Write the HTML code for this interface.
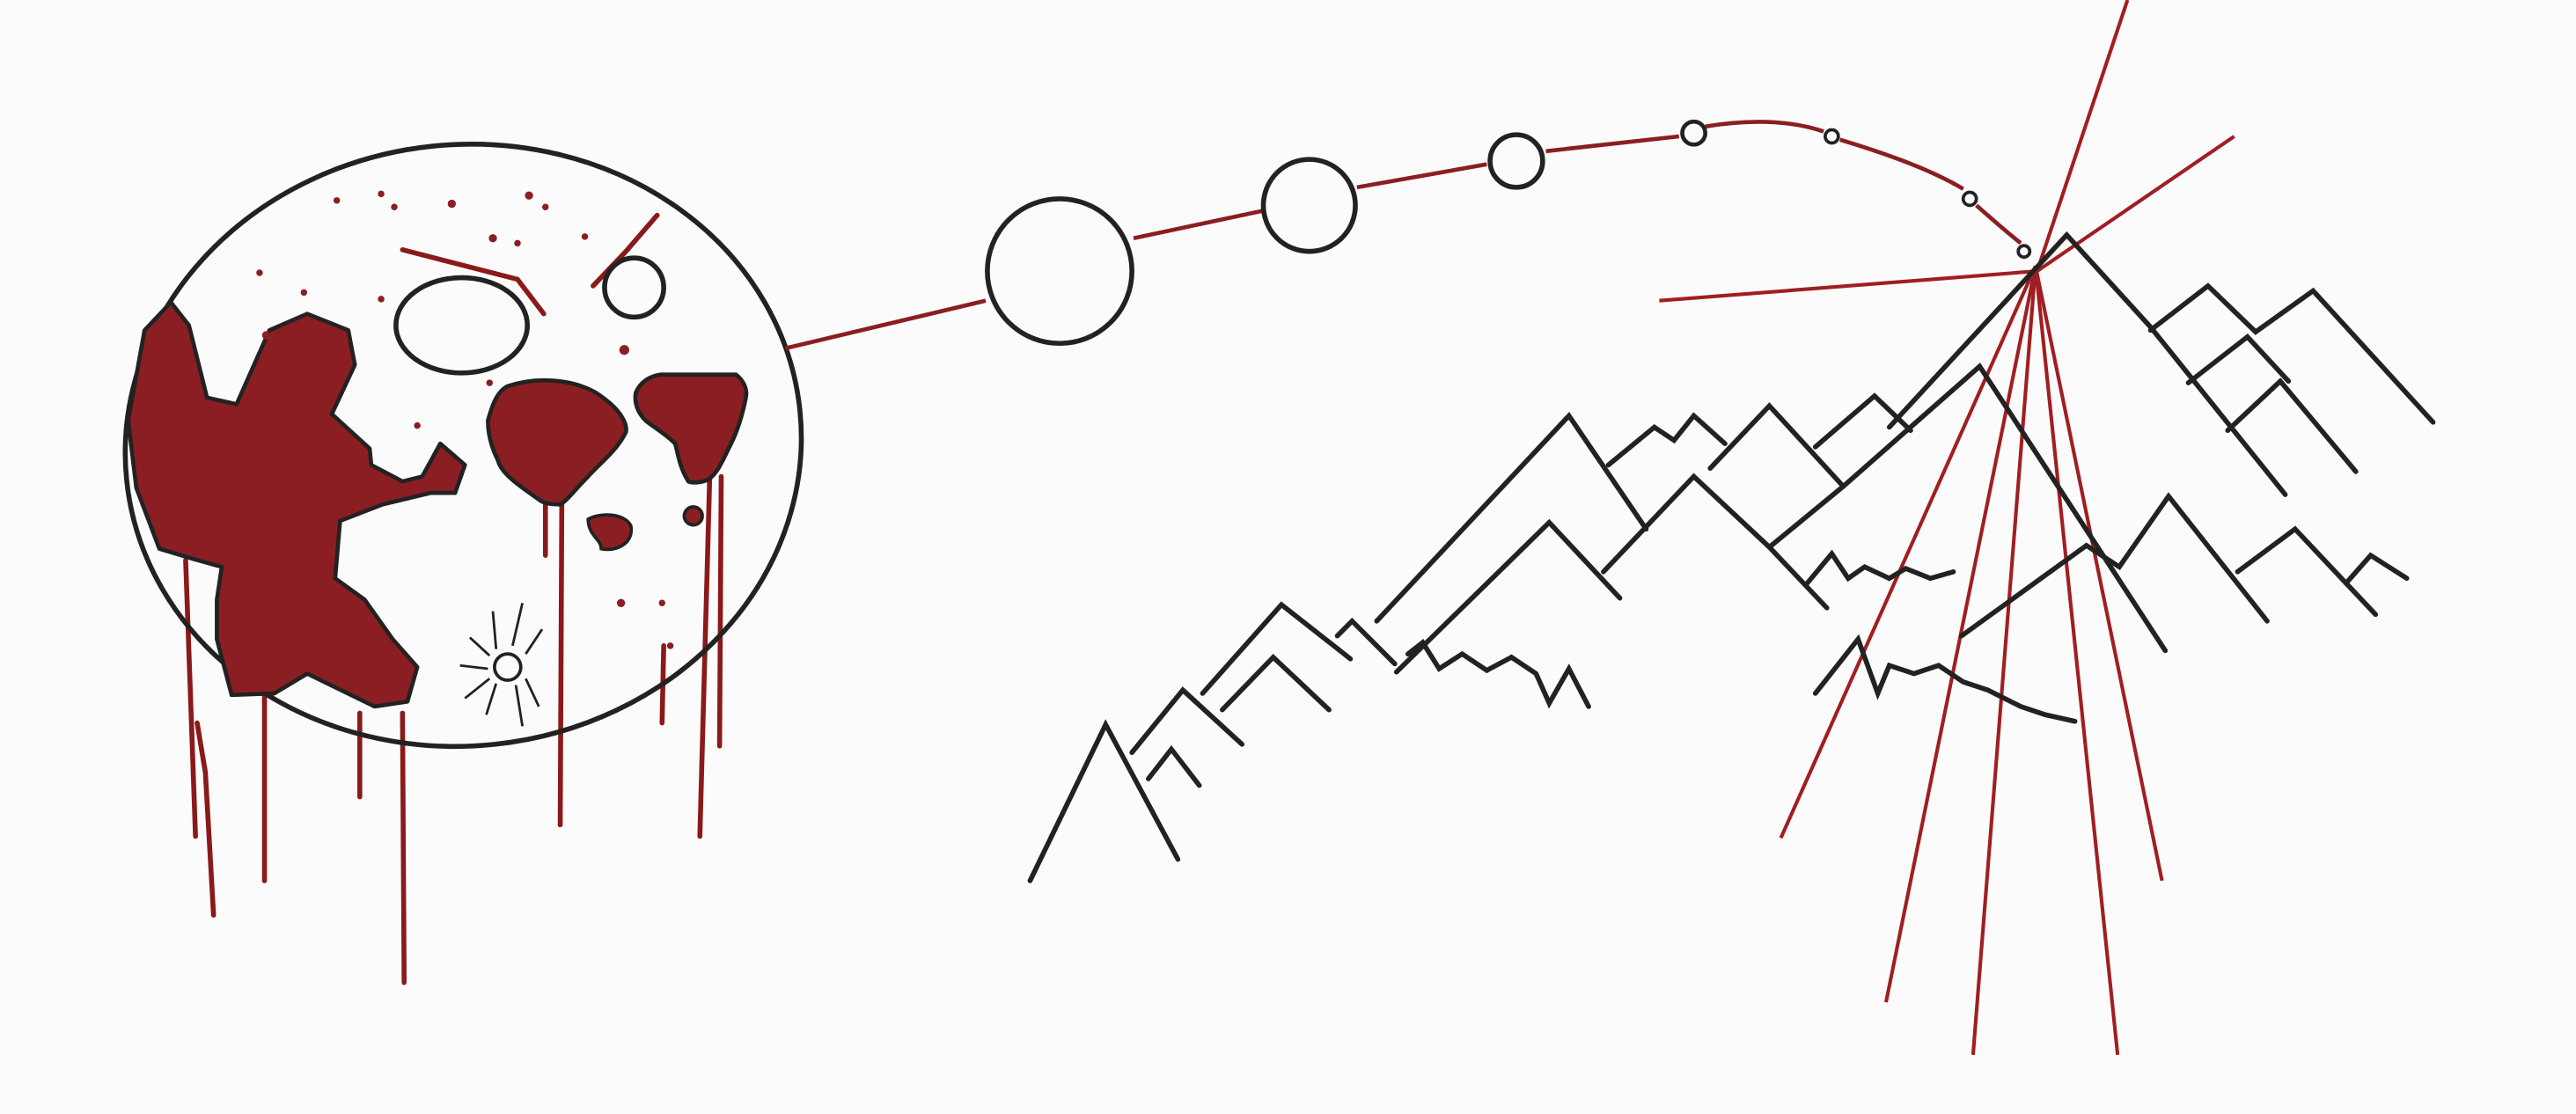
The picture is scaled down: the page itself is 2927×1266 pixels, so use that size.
<!DOCTYPE html>
<html><head><meta charset="utf-8"><style>
html,body{margin:0;padding:0;background:#fbfbfb;}
svg{display:block;}
</style></head><body>
<svg width="2927" height="1266" viewBox="0 0 1568 678" preserveAspectRatio="none" xmlns="http://www.w3.org/2000/svg">
<rect width="1568" height="678" fill="#fbfbfb"/>
<g>
  <g stroke="#8a1a1a" stroke-width="3" fill="none" stroke-linecap="round">
    <path d="M113 341 L119 509"/>
    <path d="M120 440 L125 470 L130 557"/>
    <path d="M161 423 L161 536"/>
    <path d="M219 434 L219 485"/>
    <path d="M245 434 L246 598"/>
    <path d="M332 300 L332 338"/>
    <path d="M342 300 L341 502"/>
    <path d="M404 393 L403 440"/>
    <path d="M432 290 L426 509"/>
    <path d="M439 290 L438 454"/>
    <path d="M245 152 L315 170 L331 191"/>
    <path d="M361 174 L381 153 L400 131"/>
  </g>
  <ellipse cx="282" cy="271" rx="206" ry="183" transform="rotate(-6 282 271)" fill="none" stroke="#222" stroke-width="3"/>
  <path d="M104 184 L115 198 L126 242 L144 246 L164 201 L187 191 L212 201 L216 222 L202 252 L225 273 L226 283 L245 293 L257 290 L268 270 L283 283 L277 300 L262 300 L233 307 L207 317 L204 352 L222 365 L239 389 L254 406 L248 427 L228 430 L187 410 L167 422 L141 423 L132 389 L132 365 L135 345 L117 340 L97 334 L83 297 L78 256 L88 201 Z" fill="#8b1e22" stroke="#222" stroke-width="2.5" stroke-linejoin="round"/>
  <path d="M309 235 C330 228 355 232 367 242 C378 250 382 258 381 263 C375 275 365 282 358 290 C350 298 345 305 341 307 C335 307 330 306 328 304 C315 295 305 288 303 280 C298 270 297 262 297 256 C300 245 303 238 309 235 Z" fill="#8b1e22" stroke="#222" stroke-width="2.5"/>
  <path d="M387 239 C390 232 396 229 402 228 L448 228 C453 232 455 237 454 242 C452 252 449 262 445 270 C440 280 437 288 431 292 C426 294 421 294 419 293 C414 285 413 278 411 270 C405 264 398 260 393 256 C388 251 386 245 387 239 Z" fill="#8b1e22" stroke="#222" stroke-width="2.5"/>
  <path d="M358 316 C365 312 380 312 384 320 C386 330 376 336 366 334 C366 328 358 326 358 316 Z" fill="#8b1e22" stroke="#222" stroke-width="2"/>
  <circle cx="422" cy="314" r="5.5" fill="#8b1e22" stroke="#222" stroke-width="2"/>
  <ellipse cx="281" cy="198" rx="40" ry="29" fill="none" stroke="#222" stroke-width="3"/>
  <circle cx="386" cy="175" r="18" fill="none" stroke="#222" stroke-width="3"/>
  <g stroke="#222" stroke-width="1.5" fill="none">
    <circle cx="309" cy="406" r="8" stroke-width="2"/>
    <path d="M280 405 L297 407 M286 388 L298 399 M300 372 L302 395 M318 367 L312 393 M330 383 L320 398 M283 425 L298 413 M296 435 L302 416 M318 442 L314 417 M328 430 L320 413"/>
  </g>
  <g fill="#8b1e22">
    <circle cx="205" cy="122" r="2"/><circle cx="232" cy="118" r="2"/><circle cx="240" cy="126" r="2"/><circle cx="275" cy="124" r="2.5"/><circle cx="300" cy="145" r="2.5"/><circle cx="315" cy="148" r="2"/><circle cx="322" cy="119" r="2.5"/><circle cx="332" cy="126" r="2"/><circle cx="356" cy="144" r="2"/><circle cx="185" cy="178" r="2"/><circle cx="158" cy="166" r="2"/><circle cx="162" cy="204" r="2.5"/><circle cx="232" cy="182" r="2"/><circle cx="380" cy="213" r="3"/><circle cx="254" cy="259" r="2"/><circle cx="378" cy="367" r="2.5"/><circle cx="408" cy="393" r="2"/><circle cx="403" cy="367" r="2"/><circle cx="298" cy="233" r="2"/>
  </g>
</g>
<g fill="none">
  <path d="M478 212 L600 183 M690 145 L770 128 M826 114 L905 100 M941 92 L1022 83 M1038 77 Q1080 70 1110 80 M1120 85 Q1170 100 1195 115 M1203 125 Q1220 140 1230 148" stroke="#8b1e22" stroke-width="2.5"/>
  <g stroke="#222" stroke-width="3">
    <ellipse cx="645" cy="165" rx="44" ry="44"/>
    <ellipse cx="797" cy="125" rx="28" ry="28"/>
    <circle cx="923" cy="98" r="16"/>
    <circle cx="1031" cy="81" r="7" stroke-width="2.5"/>
    <circle cx="1115" cy="83" r="4" stroke-width="2"/>
    <circle cx="1199" cy="121" r="4" stroke-width="2"/>
    <circle cx="1232" cy="153" r="3.5" stroke-width="2"/>
  </g>
</g>
<g stroke="#a01e22" stroke-width="2.2" fill="none">
  <path d="M1240 165 L1295 0"/><path d="M1240 165 L1360 83"/><path d="M1240 165 L1010 183"/>
  <path d="M1239 162 L1084 510"/><path d="M1239 162 L1148 610"/><path d="M1239 162 L1201 642"/>
  <path d="M1239 162 L1289 642"/><path d="M1239 162 L1316 536"/>
</g>
<g stroke="#222" stroke-width="3" fill="none" stroke-linejoin="miter" stroke-linecap="round">
  <path d="M627 536 L673 441 L717 523"/>
  <path d="M689 458 L720 420 L756 453"/>
  <path d="M699 474 L713 456 L730 478"/>
  <path d="M732 422 L780 368 L822 401"/>
  <path d="M744 432 L775 400 L809 432"/>
  <path d="M814 387 L823 378 L849 404"/>
  <path d="M838 378 L955 253 L1002 322"/>
  <path d="M850 409 L943 318 L986 364"/>
  <path d="M976 348 L1031 290 L1077 333 L1112 370"/>
  <path d="M979 283 L1007 260 L1019 268 L1031 253 L1050 270"/>
  <path d="M1041 285 L1077 247 L1122 296"/>
  <path d="M1105 272 L1141 241 L1163 262"/>
  <path d="M1077 333 L1122 296 L1205 223 L1318 396"/>
  <path d="M1150 260 L1258 143 L1309 199 L1391 301"/>
  <path d="M1309 201 L1344 174 L1373 202 L1408 177 L1481 257"/>
  <path d="M1332 233 L1368 205 L1393 232"/>
  <path d="M1356 262 L1388 232 L1434 287"/>
  <path d="M1194 387 L1270 332 L1290 345 L1320 302 L1380 378"/>
  <path d="M1362 348 L1397 322 L1446 374"/>
  <path d="M1428 355 L1443 338 L1465 352"/>
  <path d="M1100 355 L1115 337 L1125 352 L1135 345 L1150 352 L1160 346 L1175 352 L1189 348"/>
  <path d="M857 398 L866 391 L876 407 L890 398 L905 408 L920 400 L935 410 L943 428 L955 407 L967 430"/>
  <path d="M1105 422 L1131 389 L1143 422 L1150 405 L1165 410 L1180 405 L1195 415 L1210 420 L1230 430 L1245 435 L1263 439"/>
</g>
</svg>
</body></html>
